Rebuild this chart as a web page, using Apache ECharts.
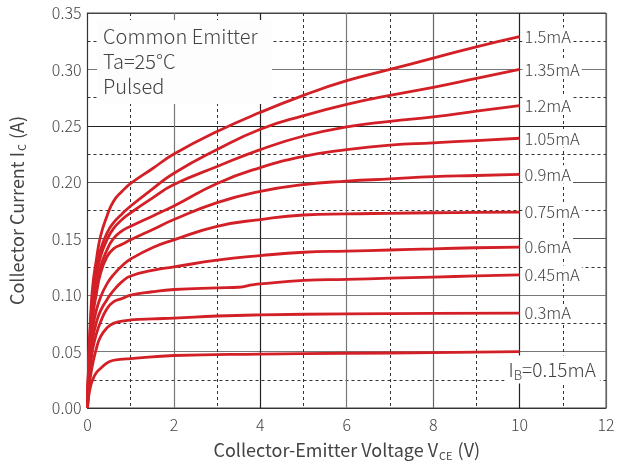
<!DOCTYPE html>
<html>
<head>
<meta charset="utf-8">
<script src="https://cdn.jsdelivr.net/npm/echarts@6/dist/echarts.min.js"></script>
<style>
  html, body { margin: 0; padding: 0; background: #fff; }
  #main { width: 618px; height: 466px; }
</style>
</head>
<body>
<div id="main"></div>
<script>
// collector current (A) vs collector-emitter voltage (V), one array per base current
var ib150 = [[0,0],[0.03,0.045],[0.07,0.08],[0.12,0.108],[0.2,0.13],[0.3,0.152],[0.45,0.17],[0.6,0.183],[0.8,0.192],[1,0.199],[1.5,0.212],[2,0.225],[3,0.245],[4,0.262],[5,0.277],[6,0.29],[7,0.3],[8,0.31],[9,0.32],[10,0.329]];
var ib135 = [[0,0],[0.03,0.042],[0.07,0.074],[0.12,0.1],[0.2,0.122],[0.3,0.14],[0.45,0.155],[0.6,0.164],[0.8,0.172],[1,0.179],[1.5,0.194],[2,0.208],[3,0.229],[4,0.247],[5,0.259],[6,0.269],[7,0.277],[8,0.284],[9,0.292],[10,0.3]];
var ib120 = [[0,0],[0.03,0.04],[0.07,0.07],[0.12,0.094],[0.2,0.116],[0.3,0.134],[0.45,0.149],[0.6,0.159],[0.8,0.167],[1,0.173],[1.5,0.186],[2,0.198],[3,0.214],[4,0.229],[5,0.241],[6,0.249],[7,0.254],[8,0.258],[9,0.263],[10,0.268]];
var ib105 = [[0,0],[0.03,0.038],[0.07,0.066],[0.12,0.088],[0.2,0.108],[0.3,0.125],[0.45,0.14],[0.6,0.15],[0.8,0.157],[1,0.161],[1.5,0.17],[2,0.179],[3,0.199],[4,0.213],[5,0.223],[6,0.229],[7,0.233],[8,0.235],[9,0.237],[10,0.239]];
var ib090 = [[0,0],[0.03,0.035],[0.07,0.061],[0.12,0.081],[0.2,0.1],[0.3,0.119],[0.45,0.134],[0.6,0.141],[0.8,0.145],[1,0.149],[1.5,0.158],[2,0.167],[3,0.182],[4,0.192],[5,0.198],[6,0.201],[7,0.203],[8,0.205],[9,0.206],[10,0.207]];
var ib075 = [[0,0],[0.03,0.031],[0.07,0.053],[0.12,0.07],[0.2,0.086],[0.3,0.098],[0.45,0.11],[0.6,0.118],[0.8,0.126],[1,0.132],[1.5,0.142],[2,0.149],[3,0.161],[4,0.167],[5,0.171],[6,0.172],[7,0.1725],[8,0.173],[9,0.1733],[10,0.1736]];
var ib060 = [[0,0],[0.03,0.027],[0.07,0.046],[0.12,0.061],[0.2,0.075],[0.3,0.086],[0.45,0.096],[0.6,0.104],[0.8,0.112],[1,0.117],[1.5,0.122],[2,0.125],[3,0.131],[4,0.135],[5,0.138],[6,0.139],[7,0.14],[8,0.141],[9,0.142],[10,0.1426]];
var ib045 = [[0,0],[0.03,0.022],[0.07,0.038],[0.12,0.052],[0.2,0.065],[0.3,0.076],[0.45,0.088],[0.6,0.094],[0.8,0.097],[1,0.1],[1.5,0.103],[2,0.105],[3,0.1065],[3.5,0.107],[3.8,0.109],[4,0.11],[5,0.113],[6,0.114],[7,0.115],[8,0.116],[9,0.117],[10,0.118]];
var ib030 = [[0,0],[0.03,0.016],[0.07,0.028],[0.12,0.039],[0.2,0.052],[0.3,0.063],[0.45,0.071],[0.6,0.075],[0.8,0.077],[1,0.078],[1.5,0.079],[2,0.0796],[3,0.0815],[4,0.0825],[6,0.0834],[8,0.0838],[10,0.084]];
var ib015 = [[0,0],[0.03,0.011],[0.07,0.019],[0.12,0.025],[0.2,0.031],[0.3,0.035],[0.5,0.041],[0.75,0.043],[1,0.0437],[2,0.0465],[4,0.0478],[6,0.0485],[8,0.049],[10,0.05]];

var curveNames = ["1.5mA", "1.35mA", "1.2mA", "1.05mA", "0.9mA", "0.75mA", "0.6mA", "0.45mA", "0.3mA", "IB=0.15mA"];
var curveData = [ib150, ib135, ib120, ib105, ib090, ib075, ib060, ib045, ib030, ib015];
var noteLines = ["Common Emitter", "Ta=25°C", "Pulsed"];

var FONT = "Noto Sans CJK SC";
var red = "#d32027";
var textColor = "#444";

var chart = echarts.init(document.getElementById("main"));

var series = curveData.map(function (d, i) {
  var isBase = i === curveData.length - 1;
  return {
    name: curveNames[i],
    type: "line",
    data: d,
    smooth: 0.5,
    showSymbol: false,
    z: 3,
    lineStyle: { color: red, width: 2.8 },
    endLabel: {
      show: true,
      distance: 3,
      offset: isBase ? [-18, 18] : [0, 0],
      formatter: isBase ? "{a|I}{s|B}{a|=0.15mA}" : curveNames[i],
      color: textColor,
      fontFamily: FONT,
      fontWeight: 300,
      fontSize: 16.5,
      backgroundColor: "#fff",
      padding: isBase ? [2, 4, 2, 4] : [1, 2, 1, 2],
      rich: {
        a: { fontFamily: FONT, fontWeight: 300, fontSize: 19, color: textColor },
        s: { fontFamily: FONT, fontWeight: 300, fontSize: 13, color: textColor, verticalAlign: "bottom", padding: [11, 0, 0, 0] }
      }
    }
  };
});

var option = {
  animation: false,
  backgroundColor: "#fff",
  grid: {
    left: 86, right: 12, top: 13, bottom: 58,
    show: true, borderColor: "#444", borderWidth: 1
  },
  xAxis: {
    type: "value",
    min: 0, max: 12, interval: 2,
    name: "{a|Collector-Emitter Voltage V}{s|CE}{a| (V)}",
    nameLocation: "middle",
    nameGap: 32,
    nameTextStyle: {
      rich: {
        a: { fontFamily: FONT, fontWeight: 400, fontSize: 18, color: textColor },
        s: { fontFamily: FONT, fontWeight: 400, fontSize: 11, color: textColor, verticalAlign: "bottom", padding: [10, 1, 0, 1] }
      }
    },
    axisLine: { show: true, lineStyle: { color: "#333", width: 1 } },
    axisTick: { show: false },
    axisLabel: { fontFamily: FONT, fontWeight: 300, fontSize: 16, color: textColor, margin: 9 },
    splitLine: {
      show: true,
      lineStyle: { color: ["#333", "#777", "#222", "#777", "#666", "#222", "#666"], width: 1.2 }
    },
    minorTick: { show: false, splitNumber: 2 },
    minorSplitLine: { show: true, lineStyle: { color: "#333", width: 1, type: [3, 3] } }
  },
  yAxis: {
    type: "value",
    min: 0, max: 0.35, interval: 0.05,
    name: "{a|Collector Current I}{s|C}{a| (A)}",
    nameLocation: "middle",
    nameGap: 60,
    nameTextStyle: {
      rich: {
        a: { fontFamily: FONT, fontWeight: 400, fontSize: 18, color: textColor },
        s: { fontFamily: FONT, fontWeight: 400, fontSize: 11, color: textColor, verticalAlign: "bottom", padding: [10, 1, 0, 1] }
      }
    },
    axisLine: { show: true, lineStyle: { color: "#333", width: 1 } },
    axisTick: { show: false },
    axisLabel: {
      fontFamily: FONT, fontWeight: 300, fontSize: 16, color: textColor, margin: 6,
      formatter: function (v) { return v.toFixed(2); }
    },
    splitLine: {
      show: true,
      lineStyle: { color: ["#333", "#777", "#777", "#555", "#555", "#222", "#777", "#444"], width: 1.2 }
    },
    minorTick: { show: false, splitNumber: 2 },
    minorSplitLine: { show: true, lineStyle: { color: "#333", width: 1, type: [3, 3] } }
  },
  graphic: [
    {
      type: "rect",
      left: 97, top: 20, z: 100,
      shape: { width: 175, height: 84 },
      style: { fill: "#fdfdfd" }
    },
    {
      type: "text",
      left: 103, top: 24, z: 101,
      style: {
        text: noteLines.join("\n"),
        fontFamily: FONT,
        fontWeight: 300,
        fontSize: 20,
        lineHeight: 25,
        fill: textColor
      }
    }
  ],
  series: series
};

chart.setOption(option);
</script>
</body>
</html>
